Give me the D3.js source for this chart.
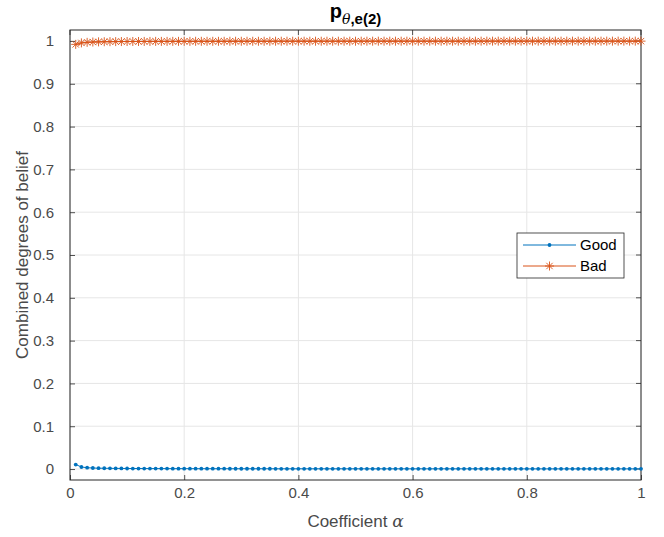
<!DOCTYPE html>
<html>
<head>
<meta charset="utf-8">
<script src="https://cdn.jsdelivr.net/npm/d3@7"></script>
<style>
  body { margin: 0; background: #fff; }
  svg text { font-family: "Liberation Sans", Arial, sans-serif; }
</style>
</head>
<body>
<div id="chart"></div>
<script>
// --- data ---
var alphas = [
  0.01, 0.02, 0.03, 0.04, 0.05, 0.06, 0.07, 0.08, 0.09, 0.10,
  0.11, 0.12, 0.13, 0.14, 0.15, 0.16, 0.17, 0.18, 0.19, 0.20,
  0.21, 0.22, 0.23, 0.24, 0.25, 0.26, 0.27, 0.28, 0.29, 0.30,
  0.31, 0.32, 0.33, 0.34, 0.35, 0.36, 0.37, 0.38, 0.39, 0.40,
  0.41, 0.42, 0.43, 0.44, 0.45, 0.46, 0.47, 0.48, 0.49, 0.50,
  0.51, 0.52, 0.53, 0.54, 0.55, 0.56, 0.57, 0.58, 0.59, 0.60,
  0.61, 0.62, 0.63, 0.64, 0.65, 0.66, 0.67, 0.68, 0.69, 0.70,
  0.71, 0.72, 0.73, 0.74, 0.75, 0.76, 0.77, 0.78, 0.79, 0.80,
  0.81, 0.82, 0.83, 0.84, 0.85, 0.86, 0.87, 0.88, 0.89, 0.90,
  0.91, 0.92, 0.93, 0.94, 0.95, 0.96, 0.97, 0.98, 0.99, 1.00
];

var goodValues = [
  0.0105, 0.0048, 0.0031, 0.0024, 0.0020, 0.0018, 0.0016, 0.0015, 0.0014, 0.0013,
  0.0012, 0.0012, 0.0011, 0.0011, 0.0010, 0.0010, 0.0010, 0.0009, 0.0009, 0.0009,
  0.0009, 0.0008, 0.0008, 0.0008, 0.0008, 0.0008, 0.0008, 0.0007, 0.0007, 0.0007,
  0.0007, 0.0007, 0.0007, 0.0007, 0.0007, 0.0006, 0.0006, 0.0006, 0.0006, 0.0006,
  0.0006, 0.0006, 0.0006, 0.0006, 0.0006, 0.0006, 0.0006, 0.0006, 0.0006, 0.0006,
  0.0005, 0.0005, 0.0005, 0.0005, 0.0005, 0.0005, 0.0005, 0.0005, 0.0005, 0.0005,
  0.0005, 0.0005, 0.0005, 0.0005, 0.0005, 0.0005, 0.0005, 0.0005, 0.0005, 0.0005,
  0.0005, 0.0004, 0.0004, 0.0004, 0.0004, 0.0004, 0.0004, 0.0004, 0.0004, 0.0004,
  0.0004, 0.0004, 0.0004, 0.0004, 0.0004, 0.0004, 0.0004, 0.0004, 0.0004, 0.0004,
  0.0004, 0.0004, 0.0004, 0.0004, 0.0004, 0.0004, 0.0004, 0.0004, 0.0004, 0.0004
];

var badValues = [
  0.9920, 0.9955, 0.9968, 0.9975, 0.9979, 0.9982, 0.9984, 0.9985, 0.9986, 0.9987,
  0.9988, 0.9988, 0.9989, 0.9989, 0.9990, 0.9990, 0.9990, 0.9991, 0.9991, 0.9991,
  0.9991, 0.9992, 0.9992, 0.9992, 0.9992, 0.9992, 0.9992, 0.9993, 0.9993, 0.9993,
  0.9993, 0.9993, 0.9993, 0.9993, 0.9993, 0.9994, 0.9994, 0.9994, 0.9994, 0.9994,
  0.9994, 0.9994, 0.9994, 0.9994, 0.9994, 0.9994, 0.9994, 0.9994, 0.9994, 0.9994,
  0.9995, 0.9995, 0.9995, 0.9995, 0.9995, 0.9995, 0.9995, 0.9995, 0.9995, 0.9995,
  0.9995, 0.9995, 0.9995, 0.9995, 0.9995, 0.9995, 0.9995, 0.9995, 0.9995, 0.9995,
  0.9995, 0.9996, 0.9996, 0.9996, 0.9996, 0.9996, 0.9996, 0.9996, 0.9996, 0.9996,
  0.9996, 0.9996, 0.9996, 0.9996, 0.9996, 0.9996, 0.9996, 0.9996, 0.9996, 0.9996,
  0.9996, 0.9996, 0.9996, 0.9996, 0.9996, 0.9996, 0.9996, 0.9996, 0.9996, 0.9996
];

var xTicks = [0, 0.2, 0.4, 0.6, 0.8, 1];
var yTicks = [0, 0.1, 0.2, 0.3, 0.4, 0.5, 0.6, 0.7, 0.8, 0.9, 1];
var seriesNames = ["Good", "Bad"];
var seriesColors = ["#0072BD", "#D95319"];

// --- layout ---
var W = 664, H = 537;
var box = { left: 70, right: 641, top: 30, bottom: 480 };
var axisColor = "#262626";
var textColor = "#4a4a4a";

var svg = d3.select("#chart").append("svg")
  .attr("width", W)
  .attr("height", H);

var xScale = d3.scaleLinear().domain([0, 1]).range([box.left, box.right]);
var yScale = d3.scaleLinear().domain([-0.0256, 1.0256]).range([box.bottom, box.top]);

// grid
var grid = svg.append("g");
grid.selectAll(".vgrid").data(xTicks).enter().append("line")
  .attr("x1", function (d) { return xScale(d); })
  .attr("x2", function (d) { return xScale(d); })
  .attr("y1", box.top).attr("y2", box.bottom)
  .attr("stroke", "#e6e6e6").attr("stroke-width", 1);
grid.selectAll(".hgrid").data(yTicks).enter().append("line")
  .attr("y1", function (d) { return yScale(d); })
  .attr("y2", function (d) { return yScale(d); })
  .attr("x1", box.left).attr("x2", box.right)
  .attr("stroke", "#e6e6e6").attr("stroke-width", 1);

// axes (ticks inward, MATLAB style)
var xAxis = svg.append("g")
  .attr("transform", "translate(0," + box.bottom + ")")
  .call(d3.axisBottom(xScale).tickValues(xTicks).tickSizeInner(-5).tickSizeOuter(0)
    .tickFormat(function (d) { return d3.format("~g")(d); }));
var yAxis = svg.append("g")
  .attr("transform", "translate(" + box.left + ",0)")
  .call(d3.axisLeft(yScale).tickValues(yTicks).tickSizeInner(-5).tickSizeOuter(0)
    .tickFormat(function (d) { return d3.format("~g")(d); }));

[xAxis, yAxis].forEach(function (a) {
  a.select(".domain").remove();
  a.selectAll(".tick line").attr("stroke", axisColor).attr("stroke-width", 0.8);
  a.selectAll(".tick text")
    .attr("fill", textColor)
    .attr("font-size", "15px")
    .attr("font-family", "Liberation Sans, Arial, sans-serif");
});
xAxis.selectAll(".tick text").attr("dy", "0.95em").attr("y", 4);
yAxis.selectAll(".tick text").attr("x", -16);

// top/right ticks
svg.append("g").selectAll("line").data(xTicks).enter().append("line")
  .attr("x1", function (d) { return xScale(d); })
  .attr("x2", function (d) { return xScale(d); })
  .attr("y1", box.top).attr("y2", box.top + 5)
  .attr("stroke", axisColor).attr("stroke-width", 0.8);
svg.append("g").selectAll("line").data(yTicks).enter().append("line")
  .attr("y1", function (d) { return yScale(d); })
  .attr("y2", function (d) { return yScale(d); })
  .attr("x1", box.right).attr("x2", box.right - 5)
  .attr("stroke", axisColor).attr("stroke-width", 0.8);

// box
svg.append("rect")
  .attr("x", box.left).attr("y", box.top)
  .attr("width", box.right - box.left).attr("height", box.bottom - box.top)
  .attr("fill", "none").attr("stroke", axisColor).attr("stroke-width", 1);

// --- series ---
var goodData = alphas.map(function (a, i) { return { x: a, y: goodValues[i] }; });
var badData = alphas.map(function (a, i) { return { x: a, y: badValues[i] }; });

var line = d3.line()
  .x(function (d) { return xScale(d.x); })
  .y(function (d) { return yScale(d.y); });

svg.append("path").datum(goodData)
  .attr("d", line).attr("fill", "none")
  .attr("stroke", seriesColors[0]).attr("stroke-width", 1);
svg.append("path").datum(badData)
  .attr("d", line).attr("fill", "none")
  .attr("stroke", seriesColors[1]).attr("stroke-width", 1);

// '.' markers
svg.append("g").selectAll("circle").data(goodData).enter().append("circle")
  .attr("cx", function (d) { return xScale(d.x); })
  .attr("cy", function (d) { return yScale(d.y); })
  .attr("r", 1.9)
  .attr("fill", seriesColors[0]);

// '*' markers
function starPath(r) {
  var k = r * 0.7071;
  return "M" + (-r) + ",0L" + r + ",0M0," + (-r) + "L0," + r +
    "M" + (-k) + "," + (-k) + "L" + k + "," + k +
    "M" + (-k) + "," + k + "L" + k + "," + (-k);
}
svg.append("g").selectAll("path").data(badData).enter().append("path")
  .attr("transform", function (d) { return "translate(" + xScale(d.x) + "," + yScale(d.y) + ")"; })
  .attr("d", starPath(4.5))
  .attr("fill", "none")
  .attr("stroke", seriesColors[1])
  .attr("stroke-width", 0.9);

// --- legend ---
var lg = svg.append("g");
lg.append("rect")
  .attr("x", 517).attr("y", 233).attr("width", 107).attr("height", 45)
  .attr("fill", "#fff").attr("stroke", axisColor).attr("stroke-width", 0.8);
seriesNames.forEach(function (name, i) {
  var yy = 245 + i * 21;
  lg.append("line")
    .attr("x1", 523).attr("x2", 576).attr("y1", yy).attr("y2", yy)
    .attr("stroke", seriesColors[i]).attr("stroke-width", 1);
  if (i === 0) {
    lg.append("circle").attr("cx", 549.5).attr("cy", yy).attr("r", 1.9)
      .attr("fill", seriesColors[i]);
  } else {
    lg.append("path").attr("transform", "translate(549.5," + yy + ")")
      .attr("d", starPath(4.5)).attr("fill", "none")
      .attr("stroke", seriesColors[i]).attr("stroke-width", 0.9);
  }
  lg.append("text")
    .attr("x", 580).attr("y", yy).attr("dy", "0.35em")
    .attr("font-size", "15px").attr("fill", "#000")
    .text(name);
});

// --- labels ---
var xl = svg.append("text")
  .attr("x", (box.left + box.right) / 2).attr("y", 527)
  .attr("text-anchor", "middle")
  .attr("font-size", "17px").attr("fill", textColor);
xl.append("tspan").text("Coefficient ");
xl.append("tspan").attr("font-family", "DejaVu Serif, serif").attr("font-style", "italic").text("α");

svg.append("text")
  .attr("transform", "translate(28," + ((box.top + box.bottom) / 2) + ") rotate(-90)")
  .attr("text-anchor", "middle")
  .attr("font-size", "17px").attr("fill", textColor)
  .text("Combined degrees of belief");

var title = svg.append("text")
  .attr("x", (box.left + box.right) / 2).attr("y", 18)
  .attr("text-anchor", "middle")
  .attr("font-size", "20px").attr("font-weight", "bold").attr("fill", "#000");
title.append("tspan").text("p");
title.append("tspan").attr("dy", 6).attr("font-size", "14px")
  .attr("font-family", "DejaVu Serif, serif").attr("font-style", "italic").attr("font-weight", "normal")
  .text("θ");
title.append("tspan").attr("font-size", "15px").text(",e(2)");
</script>
</body>
</html>
